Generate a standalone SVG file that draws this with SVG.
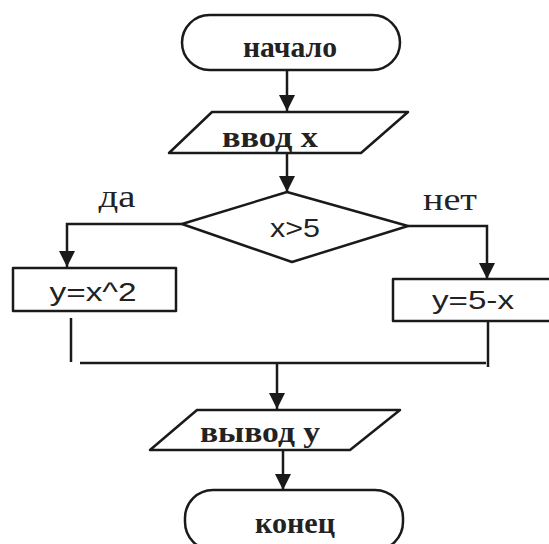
<svg xmlns="http://www.w3.org/2000/svg" width="549" height="544" viewBox="0 0 549 544">
<style>
.sh{fill:#fff;stroke:#1a1a1a;stroke-width:2.5;stroke-linejoin:round}
.ln{fill:none;stroke:#1a1a1a;stroke-width:2.5}
.ru{font-family:"Liberation Serif","DejaVu Serif",serif;font-size:30px;font-weight:bold;fill:#222}
.lb{font-family:"Liberation Serif","DejaVu Serif",serif;font-size:31px;fill:#222}
.f{font-family:"Liberation Sans",Arial,sans-serif;font-size:25px;fill:#222}
</style>
<defs>
<marker id="ah" markerUnits="userSpaceOnUse" markerWidth="16" markerHeight="20" refX="16" refY="8" orient="auto">
<path d="M0,0 L16,8 L0,16 Z" fill="#1a1a1a"/>
</marker>
</defs>
<rect width="549" height="544" fill="#fff"/>
<g id="connectors">
<line class="ln" x1="287" y1="70" x2="287" y2="111" marker-end="url(#ah)"/>
<line class="ln" x1="287" y1="153" x2="287" y2="192" marker-end="url(#ah)"/>
<polyline class="ln" points="182,224 67,224 67,267" marker-end="url(#ah)"/>
<polyline class="ln" points="408,226 487,226 487,279" marker-end="url(#ah)"/>
<line class="ln" x1="71" y1="318" x2="71" y2="362"/>
<line class="ln" x1="488" y1="321" x2="488" y2="367"/>
<line class="ln" x1="80" y1="363" x2="486" y2="363"/>
<line class="ln" x1="277" y1="363" x2="277" y2="409" marker-end="url(#ah)"/>
<line class="ln" x1="283" y1="450" x2="283" y2="490" marker-end="url(#ah)"/>
<text class="lb" x="117" y="207" text-anchor="middle" textLength="37" lengthAdjust="spacingAndGlyphs">да</text>
<text class="lb" x="450" y="210" text-anchor="middle" textLength="54" lengthAdjust="spacingAndGlyphs">нет</text>
</g>
<g id="start">
<rect class="sh" x="182" y="15" width="218" height="55" rx="27.5"/>
<text class="ru" x="290" y="57" text-anchor="middle" textLength="94" lengthAdjust="spacingAndGlyphs">начало</text>
</g>
<g id="input">
<polygon class="sh" points="212,112 408,112 361,153 169,153"/>
<text class="ru" x="270" y="147" text-anchor="middle" textLength="96" lengthAdjust="spacingAndGlyphs">ввод  x</text>
</g>
<g id="decision">
<polygon class="sh" points="287,192 408,226 292,262 182,224"/>
<text class="f" x="295" y="237" text-anchor="middle" textLength="50" lengthAdjust="spacingAndGlyphs">x&gt;5</text>
</g>
<g id="yes">
<rect class="sh" x="13" y="268" width="163" height="43"/>
<text class="f" x="93" y="301" text-anchor="middle" textLength="87" lengthAdjust="spacingAndGlyphs">y=x^2</text>
</g>
<g id="no">
<rect class="sh" x="393" y="279" width="160" height="42"/>
<text class="f" x="473" y="309" text-anchor="middle" textLength="82" lengthAdjust="spacingAndGlyphs">y=5-x</text>
</g>
<g id="output">
<polygon class="sh" points="197,410 400,410 350,450 150,450"/>
<text class="ru" x="260" y="442" text-anchor="middle" textLength="120" lengthAdjust="spacingAndGlyphs">вывод  y</text>
</g>
<g id="end">
<rect class="sh" x="185" y="490" width="218" height="60" rx="28"/>
<text class="ru" x="295" y="533" text-anchor="middle" textLength="80" lengthAdjust="spacingAndGlyphs">конец</text>
</g>
</svg>
